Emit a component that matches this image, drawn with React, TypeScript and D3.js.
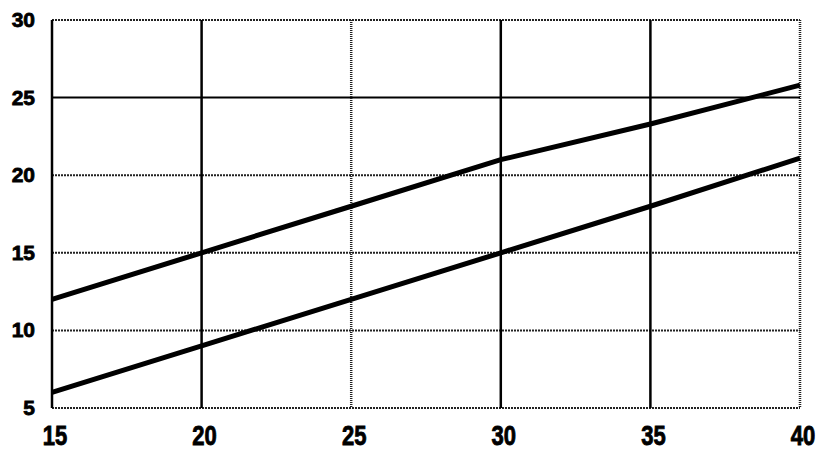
import { useEffect, useRef } from "react";
import * as d3 from "d3";

const xTicks = [15, 20, 25, 30, 35, 40];
const yTicks = [5, 10, 15, 20, 25, 30];
const upperX = [15, 20, 25, 30, 35, 40];
const upperY = [12, 15, 18, 21, 23.3, 25.8];
const lowerX = [15, 20, 25, 30, 35, 40];
const lowerY = [6, 9, 12, 15, 18, 21.1];

const W = 832;
const H = 458;

export default function App() {
  const svgRef = useRef<SVGSVGElement>(null);

  useEffect(() => {
    if (!svgRef.current) return;
    const svg = d3.select(svgRef.current);
    svg.selectAll("*").remove();

    const x = d3.scaleLinear().domain([15, 40]).range([52, 800]);
    const y = d3.scaleLinear().domain([5, 30]).range([408, 20]);

    // horizontal grid (dotted look)
    svg
      .append("g")
      .selectAll("line")
      .data(yTicks)
      .enter()
      .append("line")
      .attr("x1", x(15))
      .attr("x2", x(40))
      .attr("y1", (d) => y(d))
      .attr("y2", (d) => y(d))
      .attr("stroke", (d) => (d === 25 ? "#000" : "#222"))
      .attr("stroke-width", 2)
      .attr("stroke-dasharray", (d) => (d === 25 ? null : "2,1"));

    // vertical grid
    svg
      .append("g")
      .selectAll("line")
      .data(xTicks)
      .enter()
      .append("line")
      .attr("x1", (d) => x(d))
      .attr("x2", (d) => x(d))
      .attr("y1", y(30))
      .attr("y2", y(5))
      .attr("stroke", (d) => (d === 25 || d === 40 ? "#222" : "#000"))
      .attr("stroke-width", 2.5)
      .attr("stroke-dasharray", (d) => (d === 25 || d === 40 ? "1,1" : null));

    const line = d3
      .line<[number, number]>()
      .x((d) => x(d[0]))
      .y((d) => y(d[1]));

    const series = [
      upperX.map((v, i) => [v, upperY[i]] as [number, number]),
      lowerX.map((v, i) => [v, lowerY[i]] as [number, number]),
    ];

    svg
      .append("g")
      .selectAll("path")
      .data(series)
      .enter()
      .append("path")
      .attr("d", (d) => line(d))
      .attr("fill", "none")
      .attr("stroke", "#000")
      .attr("stroke-width", 5);

    // y labels
    svg
      .append("g")
      .selectAll("text")
      .data(yTicks)
      .enter()
      .append("text")
      .attr("x", 35)
      .attr("y", (d) => y(d) + 7)
      .attr("text-anchor", "end")
      .attr("font-family", "Liberation Sans, Arial, sans-serif")
      .attr("font-weight", "bold")
      .attr("font-size", 21)
      .attr("fill", "#000")
      .attr("stroke", "#000")
      .attr("stroke-width", 0.8)
      .text((d) => d);

    // x labels (vertically stretched)
    svg
      .append("g")
      .selectAll("text")
      .data(xTicks)
      .enter()
      .append("text")
      .attr("transform", (d) => `translate(${x(d) + 3},445) scale(1,1.28)`)
      .attr("text-anchor", "middle")
      .attr("font-family", "Liberation Sans, Arial, sans-serif")
      .attr("font-weight", "bold")
      .attr("font-size", 22)
      .attr("fill", "#000")
      .attr("stroke", "#000")
      .attr("stroke-width", 0.7)
      .text((d) => d);
  }, []);

  return (
    <svg
      ref={svgRef}
      width={W}
      height={H}
      style={{ position: "absolute", left: 0, top: 0, background: "#fff" }}
    />
  );
}
